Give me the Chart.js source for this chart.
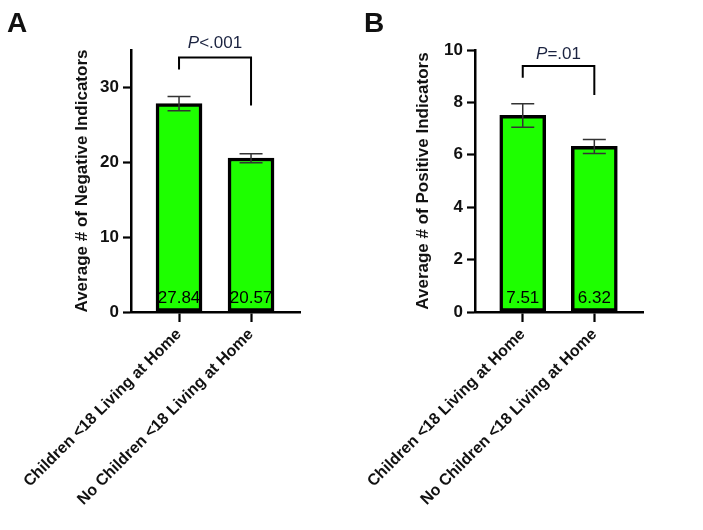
<!DOCTYPE html>
<html>
<head>
<meta charset="utf-8">
<script src="https://cdn.jsdelivr.net/npm/chart.js@4.4.1/dist/chart.umd.min.js"></script>
<style>
  html, body { margin: 0; padding: 0; background: #fff; }
  #wrap { position: relative; width: 703px; height: 530px; overflow: hidden; }
  #cA { position: absolute; left: 0; top: 0; }
  #cB { position: absolute; left: 360px; top: 0; }
</style>
</head>
<body>
<div id="wrap">
  <canvas id="cA" width="360" height="530"></canvas>
  <canvas id="cB" width="343" height="530"></canvas>
</div>
<script>
// ---- data ----
const categories = ['Children <18 Living at Home', 'No Children <18 Living at Home'];

const negativeMeans   = [27.84, 20.57];
const negativeErrLow  = [26.9, 19.95];
const negativeErrHigh = [28.8, 21.15];
const negativeTicks   = [0, 10, 20, 30];
const negativeMax     = 35;
const negativeTitle   = 'Average # of Negative Indicators';
const negativeP       = ['P', '<.001'];

const positiveMeans   = [7.51, 6.32];
const positiveErrLow  = [7.05, 6.05];
const positiveErrHigh = [7.95, 6.58];
const positiveTicks   = [0, 2, 4, 6, 8, 10];
const positiveMax     = 10;
const positiveTitle   = 'Average # of Positive Indicators';
const positiveP       = ['P', '=.01'];

const FONT = '"Liberation Sans", Arial, Helvetica, sans-serif';

const annotPlugin = {
  id: 'annot',
  afterDatasetsDraw(chart, args, o) {
    const ctx = chart.ctx;
    const xs = chart.scales.x, ys = chart.scales.y;
    ctx.save();
    // error bars
    ctx.strokeStyle = '#333';
    ctx.lineWidth = 1.5;
    o.low.forEach((lo, i) => {
      const x = xs.getPixelForValue(i);
      const yl = ys.getPixelForValue(lo), yh = ys.getPixelForValue(o.high[i]);
      ctx.beginPath();
      ctx.moveTo(x, yl); ctx.lineTo(x, yh);
      ctx.moveTo(x - 11.5, yl); ctx.lineTo(x + 11.5, yl);
      ctx.moveTo(x - 11.5, yh); ctx.lineTo(x + 11.5, yh);
      ctx.stroke();
    });
    // value labels
    ctx.fillStyle = '#000';
    ctx.font = '17px ' + FONT;
    ctx.textAlign = 'center';
    ctx.textBaseline = 'middle';
    const y0 = ys.getPixelForValue(0);
    o.means.forEach((m, i) => {
      ctx.fillText(m.toFixed(2), xs.getPixelForValue(i), y0 - 14);
    });
    // significance bracket
    const x0 = xs.getPixelForValue(0), x1 = xs.getPixelForValue(1);
    const yb = ys.getPixelForValue(o.bracket[0]);
    ctx.strokeStyle = '#000';
    ctx.lineWidth = 2;
    ctx.beginPath();
    ctx.moveTo(x0, ys.getPixelForValue(o.bracket[1]));
    ctx.lineTo(x0, yb);
    ctx.lineTo(x1, yb);
    ctx.lineTo(x1, ys.getPixelForValue(o.bracket[2]));
    ctx.stroke();
    // P text
    const yt = ys.getPixelForValue(o.bracket[3]);
    ctx.fillStyle = '#1b2340';
    ctx.textBaseline = 'middle';
    ctx.textAlign = 'left';
    ctx.font = 'italic 17px ' + FONT;
    const w1 = ctx.measureText(o.p[0]).width;
    ctx.font = '17px ' + FONT;
    const w2 = ctx.measureText(o.p[1]).width;
    const sx = (x0 + x1) / 2 - (w1 + w2) / 2;
    ctx.font = 'italic 17px ' + FONT;
    ctx.fillText(o.p[0], sx, yt);
    ctx.font = '17px ' + FONT;
    ctx.fillText(o.p[1], sx + w1, yt);
    // panel label
    ctx.fillStyle = '#111';
    ctx.font = 'bold 28px ' + FONT;
    ctx.textBaseline = 'alphabetic';
    ctx.fillText(o.panel, o.panelX, 32);
    ctx.restore();
  }
};

function makeChart(id, cfg) {
  return new Chart(document.getElementById(id), {
    type: 'bar',
    data: {
      datasets: [{
        data: categories.map((c, i) => ({ x: i, y: cfg.means[i] })),
        backgroundColor: '#1eff00',
        borderColor: '#000',
        borderWidth: 3.5,
        borderSkipped: false,
        barThickness: 46
      }]
    },
    options: {
      responsive: false,
      animation: false,
      devicePixelRatio: 1,
      layout: { padding: { left: 0, right: cfg.right, top: 50, bottom: 0 } },
      plugins: {
        legend: { display: false },
        tooltip: { enabled: false },
        annot: {
          low: cfg.low, high: cfg.high, means: cfg.means,
          bracket: cfg.bracket, p: cfg.p, panel: cfg.panel, panelX: cfg.panelX
        }
      },
      scales: {
        x: {
          type: 'linear',
          offset: false,
          min: -0.667, max: 1.68,
          afterBuildTicks: (s) => { s.ticks = categories.map((c, i) => ({ value: i })); },
          afterFit: (s) => { s.height = 218; s.paddingLeft = 0; s.paddingRight = 0; },
          ticks: {
            callback: (v) => categories[v],
            minRotation: 45, maxRotation: 45,
            autoSkip: false,
            color: '#111',
            padding: 3,
            font: { family: FONT, size: 16, weight: 'bold' }
          },
          grid: { offset: false, drawOnChartArea: false, drawTicks: true, tickLength: 10, tickColor: '#000', tickWidth: 2.2 },
          border: { display: true, color: '#000', width: 2.5 }
        },
        y: {
          min: 0, max: cfg.max,
          afterBuildTicks: (s) => { s.ticks = cfg.ticks.map(v => ({ value: v })); },
          afterFit: (s) => { s.width = cfg.yWidth; s.paddingTop = 0; s.paddingBottom = 0; },
          ticks: {
            color: '#111',
            padding: 4,
            font: { family: FONT, size: 17, weight: 'bold' }
          },
          grid: { drawOnChartArea: false, drawTicks: true, tickLength: 8, tickColor: '#000', tickWidth: 2.2 },
          border: { display: true, color: '#000', width: 2.5 },
          title: {
            display: true,
            text: cfg.title,
            color: '#111',
            padding: { top: cfg.titlePad, bottom: 0 },
            font: { family: FONT, size: 17, weight: 'bold' }
          }
        }
      }
    },
    plugins: [annotPlugin]
  });
}

makeChart('cA', {
  means: negativeMeans, low: negativeErrLow, high: negativeErrHigh,
  ticks: negativeTicks, max: negativeMax, title: negativeTitle, p: negativeP,
  bracket: [34.0, 32.4, 27.6, 35.9],
  right: 60, yWidth: 131, titlePad: 72, panel: 'A', panelX: 7
});
makeChart('cB', {
  means: positiveMeans, low: positiveErrLow, high: positiveErrHigh,
  ticks: positiveTicks, max: positiveMax, title: positiveTitle, p: positiveP,
  bracket: [9.39, 8.94, 8.28, 9.85],
  right: 60, yWidth: 115, titlePad: 53, panel: 'B', panelX: 4
});
</script>
</body>
</html>
